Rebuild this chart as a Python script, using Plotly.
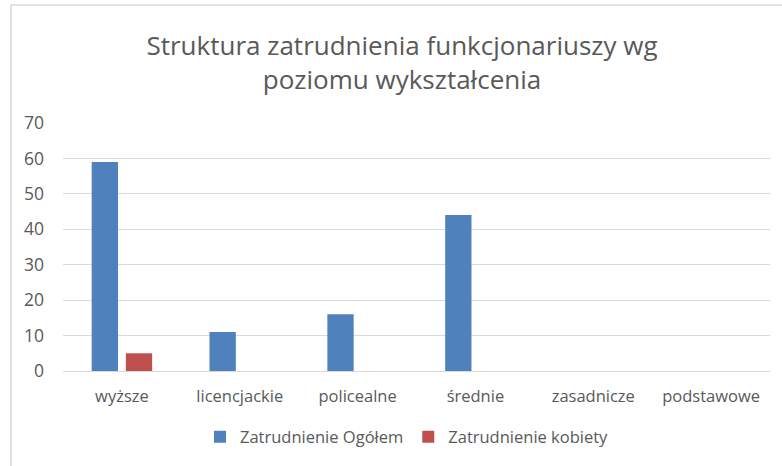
import plotly.graph_objects as go

categories = ["wyższe", "licencjackie", "policealne", "średnie", "zasadnicze", "podstawowe"]
ogolem = [59, 11, 16, 44, 0, 0]
kobiety = [5, 0, 0, 0, 0, 0]
y_ticks = [0, 10, 20, 30, 40, 50, 60, 70]

W, H = 782, 466
L, R, T, B = 63, 12, 123, 95
pw, ph = W - L - R, H - T - B

FONT = "'Open Sans', Calibri, Carlito, sans-serif"
GREY = "#595959"

fig = go.Figure()
fig.add_trace(go.Bar(x=categories, y=ogolem, name="Zatrudnienie Ogółem",
                     marker=dict(color="#4F81BD", line=dict(width=0))))
fig.add_trace(go.Bar(x=categories, y=kobiety, name="Zatrudnienie kobiety",
                     marker=dict(color="#C0504D", line=dict(width=0))))

def px_x(x):
    return (x - L) / pw

def px_y(y):
    return (H - B - y) / ph

fig.update_layout(
    width=W, height=H,
    margin=dict(l=L, r=R, t=T, b=B, autoexpand=False),
    paper_bgcolor="white", plot_bgcolor="white",
    barmode="group", bargap=0.42, bargroupgap=0.23,
    font=dict(family=FONT, color=GREY, size=16),
    title=dict(text="Struktura zatrudnienia funkcjonariuszy wg<br>poziomu wykształcenia",
               x=402 / W, xanchor="center", xref="container",
               y=1 - 55 / H, yanchor="middle", yref="container",
               font=dict(family=FONT, size=26, color=GREY)),
    xaxis=dict(showgrid=False, showline=False, ticks="", tickfont=dict(size=16.5, color=GREY),
               ticklabelstandoff=13),
    yaxis=dict(range=[0, 70], tickvals=y_ticks, showgrid=True, gridcolor="#D9D9D9", gridwidth=1,
               zeroline=True, zerolinecolor="#D9D9D9", zerolinewidth=1,
               showline=False, ticks="", tickfont=dict(size=17.5, color=GREY), ticklabelstandoff=18),
    legend=dict(orientation="h", x=px_x(407), xanchor="center", y=px_y(437), yanchor="middle",
                font=dict(size=16.5, color=GREY), itemwidth=30, traceorder="normal"),
    shapes=[dict(type="rect", xref="paper", yref="paper",
                 x0=px_x(11), x1=px_x(W + 20), y0=px_y(H + 20), y1=px_y(5),
                 line=dict(color="#D9D9D9", width=1.5), fillcolor="rgba(0,0,0,0)", layer="below")],
)

fig.write_html("out.html", config={"displayModeBar": False},
               post_script="document.body.style.margin='0';document.body.style.overflow='hidden';")
